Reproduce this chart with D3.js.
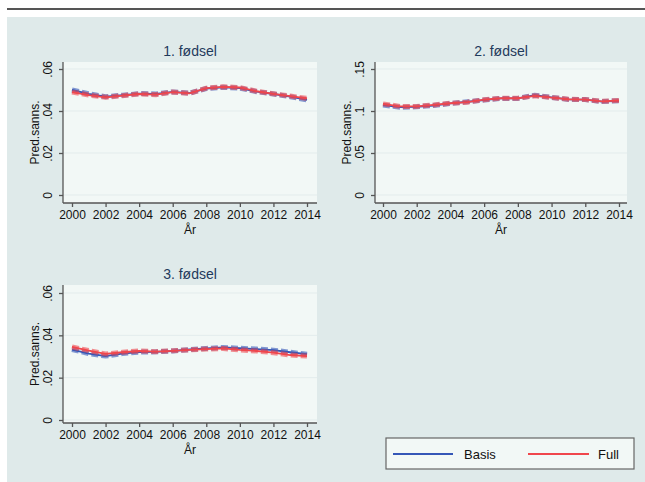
<!DOCTYPE html>
<html>
<head>
<meta charset="utf-8">
<script src="https://cdn.jsdelivr.net/npm/d3@7/dist/d3.min.js"></script>
<style>
  html, body { margin: 0; padding: 0; background: #ffffff; }
  svg { display: block; }
  text { font-family: "Liberation Sans", Arial, Helvetica, sans-serif; }
</style>
</head>
<body>
<svg id="chart" width="645" height="482"></svg>
<script>
// Years on the x axis
const years = [2000, 2001, 2002, 2003, 2004, 2005, 2006, 2007, 2008, 2009, 2010, 2011, 2012, 2013, 2014];
const xTicks = [2000, 2002, 2004, 2006, 2008, 2010, 2012, 2014];

// Predicted probabilities, 1. fødsel
const basis1 = [0.0500, 0.0482, 0.0468, 0.0475, 0.0483, 0.0481, 0.0491, 0.0485, 0.0507, 0.0513, 0.0509, 0.0492, 0.0481, 0.0468, 0.0453];
const full1  = [0.0490, 0.0476, 0.0465, 0.0473, 0.0481, 0.0478, 0.0490, 0.0484, 0.0509, 0.0515, 0.0512, 0.0494, 0.0482, 0.0471, 0.0460];

// Predicted probabilities, 2. fødsel
const basis2 = [0.1070, 0.1045, 0.1050, 0.1065, 0.1090, 0.1110, 0.1130, 0.1150, 0.1150, 0.1188, 0.1162, 0.1138, 0.1136, 0.1112, 0.1122];
const full2  = [0.1085, 0.1055, 0.1055, 0.1072, 0.1092, 0.1105, 0.1135, 0.1152, 0.1152, 0.1180, 0.1160, 0.1140, 0.1136, 0.1115, 0.1125];

// Predicted probabilities, 3. fødsel
const basis3 = [0.0333, 0.0314, 0.0302, 0.0314, 0.0321, 0.0322, 0.0326, 0.0333, 0.0338, 0.0343, 0.0339, 0.0335, 0.0330, 0.0320, 0.0311];
const full3  = [0.0345, 0.0328, 0.0312, 0.0320, 0.0326, 0.0323, 0.0327, 0.0331, 0.0335, 0.0338, 0.0331, 0.0326, 0.0318, 0.0307, 0.0302];

// Panel titles and y tick values/labels
const titles = ["1. fødsel", "2. fødsel", "3. fødsel"];
const yTicks1 = [0, 0.02, 0.04, 0.06];
const yTicks2 = [0, 0.05, 0.10, 0.15];
const yLabels1 = ["0", ".02", ".04", ".06"];
const yLabels2 = ["0", ".05", ".1", ".15"];

const seriesNames = ["Basis", "Full"];
const colors = { Basis: "#3557b7", Full: "#f0464c" };

const svg = d3.select("#chart");

// Top rule and graph background
svg.append("rect").attr("x", 0).attr("y", 0).attr("width", 645).attr("height", 482).attr("fill", "#ffffff");
svg.append("line").attr("x1", 7).attr("x2", 645).attr("y1", 9).attr("y2", 9)
  .attr("stroke", "#555").attr("stroke-width", 2);
svg.append("rect").attr("x", 7).attr("y", 17).attr("width", 638).attr("height", 465).attr("fill", "#dfeaea");

const panels = [
  { title: titles[0], basis: basis1, full: full1, ticks: yTicks1, labels: yLabels1, max: 0.06,
    box: { l: 63, r: 317, t: 62, b: 203 }, xr: [72, 307], yr: [195, 69] },
  { title: titles[1], basis: basis2, full: full2, ticks: yTicks2, labels: yLabels2, max: 0.15,
    box: { l: 375, r: 627, t: 62, b: 203 }, xr: [383, 619], yr: [195, 69] },
  { title: titles[2], basis: basis3, full: full3, ticks: yTicks1, labels: yLabels1, max: 0.06,
    box: { l: 63, r: 317, t: 285, b: 423 }, xr: [72, 307], yr: [420, 293] }
];

panels.forEach(p => {
  const g = svg.append("g");
  const x = d3.scaleLinear().domain([2000, 2014]).range(p.xr);
  const y = d3.scaleLinear().domain([0, p.max]).range(p.yr);

  // plot region
  g.append("rect").attr("x", p.box.l).attr("y", p.box.t)
    .attr("width", p.box.r - p.box.l).attr("height", p.box.b - p.box.t)
    .attr("fill", "#f2f8f6");

  // grid lines
  g.selectAll(".grid").data(p.ticks).join("line")
    .attr("x1", p.box.l).attr("x2", p.box.r)
    .attr("y1", d => y(d)).attr("y2", d => y(d))
    .attr("stroke", "#e3ecec").attr("stroke-width", 1);

  // y axis
  const yAxis = d3.axisLeft(y).tickValues(p.ticks).tickFormat((d, i) => p.labels[i]).tickSize(4).tickPadding(4);
  const ya = g.append("g").attr("transform", `translate(${p.box.l},0)`).call(yAxis);
  ya.select(".domain").attr("d", `M0,${p.box.t}V${p.box.b}`).attr("stroke", "#555").attr("stroke-width", 1.3);
  ya.selectAll(".tick line").attr("stroke", "#555").attr("stroke-width", 1.3);
  ya.selectAll(".tick text")
    .attr("font-size", 12).attr("fill", "#111")
    .attr("transform", "rotate(-90)")
    .attr("x", 0).attr("y", -11)
    .attr("dy", "0").attr("text-anchor", "middle");

  // x axis
  const xAxis = d3.axisBottom(x).tickValues(xTicks).tickFormat(d3.format("d")).tickSize(4).tickPadding(3);
  const xa = g.append("g").attr("transform", `translate(0,${p.box.b})`).call(xAxis);
  xa.select(".domain").attr("d", `M${p.box.l},0H${p.box.r}`).attr("stroke", "#555").attr("stroke-width", 1.3);
  xa.selectAll(".tick line").attr("stroke", "#555").attr("stroke-width", 1.3);
  xa.selectAll(".tick text").attr("font-size", 12).attr("fill", "#111");

  // axis titles
  g.append("text").attr("x", (p.box.l + p.box.r) / 2).attr("y", p.box.b + 31)
    .attr("text-anchor", "middle").attr("font-size", 12).attr("fill", "#111").text("År");
  g.append("text")
    .attr("transform", `translate(${p.box.l - 24},${(p.box.t + p.box.b) / 2}) rotate(-90)`)
    .attr("text-anchor", "middle").attr("font-size", 12).attr("fill", "#111").text("Pred.sanns.");

  // panel title
  g.append("text").attr("x", (p.box.l + p.box.r) / 2).attr("y", p.box.t - 6)
    .attr("text-anchor", "middle").attr("font-size", 14).attr("fill", "#1f3a5c").text(p.title);

  // series: wide dashed band + solid centre line
  const line = d3.line().x((d, i) => x(years[i])).y(d => y(d));
  [["Basis", p.basis], ["Full", p.full]].forEach(([name, vals]) => {
    g.append("path").datum(vals).attr("d", line)
      .attr("fill", "none").attr("stroke", colors[name]).attr("stroke-width", 5)
      .attr("stroke-opacity", 0.6).attr("stroke-dasharray", "7,3");
    g.append("path").datum(vals).attr("d", line)
      .attr("fill", "none").attr("stroke", colors[name]).attr("stroke-width", 1.8);
  });
});

// legend
const lg = svg.append("g");
lg.append("rect").attr("x", 386).attr("y", 438).attr("width", 248).attr("height", 31)
  .attr("fill", "#f2f8f6").attr("stroke", "#666").attr("stroke-width", 1.2);
const legendItems = [
  { name: seriesNames[0], x1: 393, x2: 453, tx: 464 },
  { name: seriesNames[1], x1: 528, x2: 589, tx: 598 }
];
legendItems.forEach(it => {
  lg.append("line").attr("x1", it.x1).attr("x2", it.x2).attr("y1", 454).attr("y2", 454)
    .attr("stroke", colors[it.name]).attr("stroke-width", 1.8);
  lg.append("text").attr("x", it.tx).attr("y", 458.5).attr("font-size", 13).attr("fill", "#111").text(it.name);
});
</script>
</body>
</html>
